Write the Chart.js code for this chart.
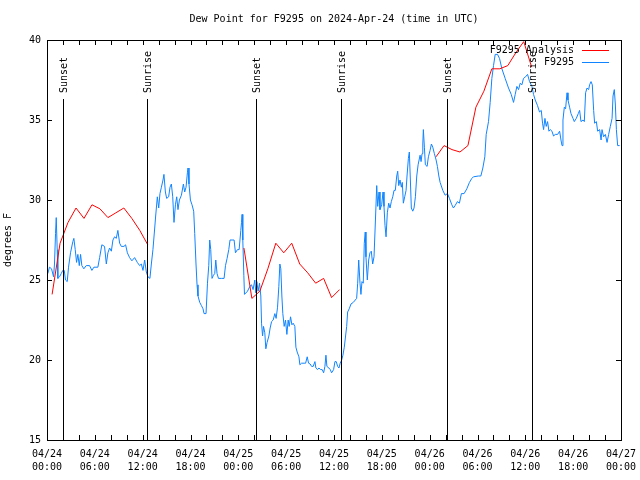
<!DOCTYPE html>
<html>
<head>
<meta charset="utf-8">
<script src="https://cdn.jsdelivr.net/npm/chart.js@4.4.1/dist/chart.umd.min.js"></script>
<style>
html, body { margin: 0; padding: 0; background: #fff; }
</style>
</head>
<body>
<canvas id="chart" width="640" height="480"></canvas>
<script>
// time = hours since 04/24 00:00 UTC, dew point in degrees F

// F9295 station readings [hour, dewpoint]
const stationReadings = [
  [0.10,25.4],[0.31,25.8],[0.57,25.7],[0.82,25.2],[0.94,26.0],[1.07,27.9],[1.16,28.9],[1.28,26.9],[1.36,25.1],[1.57,25.2],
  [1.78,25.4],[1.98,25.6],[2.16,25.6],[2.32,25.0],[2.54,24.9],[2.70,25.8],[2.95,26.7],[3.24,27.4],[3.37,27.6],[3.54,26.9],
  [3.71,26.1],[3.87,26.6],[4.05,25.9],[4.21,26.6],[4.37,25.9],[4.62,25.7],[4.92,25.9],[5.34,25.9],[5.63,25.6],[5.88,25.8],
  [6.38,25.8],[6.60,26.4],[6.88,27.2],[7.22,27.1],[7.44,26.0],[7.64,26.7],[7.85,27.0],[8.07,26.8],[8.27,27.5],[8.48,27.7],
  [8.69,27.6],[8.89,28.1],[9.11,27.3],[9.32,27.1],[9.65,27.1],[9.86,27.2],[10.08,26.7],[10.36,26.4],[10.65,26.2],[10.99,26.4],
  [11.33,26.1],[11.62,25.9],[11.83,26.0],[12.04,25.6],[12.25,26.25],[12.46,25.5],[12.66,25.2],[12.91,25.1],[13.09,26.0],[13.29,26.9],
  [13.51,28.25],[13.63,29.0],[13.84,30.2],[14.01,29.5],[14.17,30.4],[14.35,30.8],[14.55,31.25],[14.67,31.6],[14.85,30.5],[15.01,30.1],
  [15.26,30.2],[15.43,30.8],[15.60,31.0],[15.77,30.2],[15.93,28.6],[16.11,29.7],[16.27,30.2],[16.43,29.4],[16.61,30.0],[16.86,30.3],
  [17.11,31.0],[17.27,30.5],[17.44,30.8],[17.61,31.7],[17.69,32.0],[17.81,31.0],[17.99,30.0],[18.19,29.7],[18.40,29.3],[18.53,27.9],
  [18.69,26.0],[18.82,24.7],[18.94,24.0],[19.16,23.6],[19.37,23.4],[19.57,23.2],[19.70,22.9],[19.95,22.9],[20.13,24.8],[20.29,25.9],
  [20.41,27.5],[20.54,26.9],[20.70,25.1],[20.88,25.3],[21.04,25.4],[21.17,26.25],[21.33,25.4],[21.51,25.1],[21.88,25.1],[22.21,25.1],
  [22.39,25.9],[22.59,26.35],[22.80,26.9],[22.96,27.5],[23.22,27.5],[23.47,27.5],[23.64,26.7],[23.89,26.9],[24.10,26.9],[24.31,28.1],
  [24.40,28.6],[24.47,29.1],[24.56,27.5],[24.69,25.3],[24.77,24.1],[25.15,24.3],[25.44,24.6],[25.65,24.7],[25.85,24.4],[26.07,25.0],
  [26.19,24.2],[26.32,24.9],[26.48,24.3],[26.66,24.8],[26.82,24.0],[26.91,22.3],[27.04,21.5],[27.16,22.1],[27.32,21.7],[27.45,20.7],
  [27.61,21.1],[27.83,21.5],[27.99,22.0],[28.17,22.4],[28.37,22.5],[28.58,22.9],[28.74,22.6],[28.92,23.3],[29.08,24.6],[29.21,26.0],
  [29.33,25.7],[29.46,24.0],[29.58,22.9],[29.75,22.1],[29.92,22.5],[30.09,21.6],[30.25,22.5],[30.38,22.1],[30.55,22.7],[30.72,22.2],
  [30.88,22.3],[31.09,22.1],[31.22,20.8],[31.38,20.5],[31.60,20.2],[31.72,19.7],[31.93,19.8],[32.26,19.8],[32.44,19.8],[32.64,20.2],
  [32.81,19.8],[33.01,19.75],[33.19,19.6],[33.39,19.6],[33.61,19.9],[33.73,19.5],[33.94,19.4],[34.11,19.5],[34.32,19.4],[34.52,19.4],
  [34.70,19.2],[34.86,19.6],[34.99,20.3],[35.11,19.6],[35.36,19.5],[35.53,19.4],[35.70,19.2],[35.95,19.4],[36.12,19.9],[36.28,19.9],
  [36.46,19.6],[36.62,19.5],[36.78,19.8],[36.96,20.0],[37.12,20.3],[37.29,20.8],[37.59,22.1],[37.71,23.0],[37.91,23.2],[38.13,23.5],
  [38.42,23.6],[38.67,23.75],[38.84,23.85],[38.97,24.8],[39.10,26.25],[39.26,24.8],[39.38,24.1],[39.51,24.9],[39.67,24.8],[39.80,27.3],
  [39.92,28.0],[40.01,26.45],[40.18,25.0],[40.35,26.25],[40.51,26.7],[40.68,26.8],[40.85,26.0],[41.02,26.45],[41.18,28.5],[41.36,30.9],
  [41.48,29.6],[41.65,30.5],[41.77,29.4],[41.98,29.7],[42.15,30.5],[42.27,29.6],[42.40,28.4],[42.53,27.7],[42.69,29.2],[42.86,29.8],
  [43.03,29.5],[43.19,29.9],[43.37,30.2],[43.53,30.6],[43.69,30.6],[43.87,31.5],[43.99,31.8],[44.12,30.9],[44.28,31.25],[44.45,30.8],
  [44.57,31.1],[44.70,29.8],[44.87,30.2],[45.04,30.6],[45.16,31.5],[45.33,32.6],[45.45,33.0],[45.58,31.25],[45.70,29.5],[45.88,29.3],
  [46.04,29.5],[46.21,30.2],[46.38,31.5],[46.55,32.2],[46.67,32.5],[46.80,32.8],[46.92,32.4],[47.05,32.9],[47.14,33.5],[47.21,34.4],
  [47.34,33.3],[47.46,32.2],[47.68,32.1],[47.84,32.7],[48.05,33.1],[48.22,33.5],[48.39,33.3],[48.59,32.9],[48.81,32.5],[48.97,32.1],
  [49.15,31.5],[49.31,31.1],[49.65,30.6],[49.94,30.3],[50.23,30.4],[50.48,30.1],[50.78,29.7],[50.98,29.5],[51.19,29.65],[51.48,29.9],
  [51.73,29.8],[51.98,30.4],[52.32,30.4],[52.66,30.7],[52.99,31.1],[53.29,31.35],[53.49,31.45],[54.12,31.5],[54.42,31.5],[54.67,32.0],
  [54.92,32.7],[55.09,34.1],[55.38,34.9],[55.59,36.1],[55.80,37.6],[56.01,38.4],[56.22,39.1],[56.51,39.1],[56.76,38.85],[57.06,38.2],
  [57.47,37.6],[57.89,37.0],[58.23,36.6],[58.52,36.1],[58.73,36.6],[58.94,37.1],[59.15,36.9],[59.36,37.3],[59.57,37.2],[59.77,37.6],
  [60.03,37.7],[60.28,37.85],[60.53,37.4],[60.83,37.1],[61.03,36.6],[61.24,36.25],[61.53,35.9],[61.78,35.5],[62.00,35.6],[62.16,34.8],
  [62.29,34.4],[62.46,35.1],[62.62,34.6],[62.79,34.9],[62.96,34.3],[63.13,34.4],[63.34,34.3],[63.54,34.0],[63.76,34.1],[64.05,34.1],
  [64.30,34.3],[64.47,33.75],[64.60,33.4],[64.72,35.0],[64.89,35.8],[65.05,35.7],[65.23,36.7],[65.35,36.25],[65.55,35.8],[65.73,35.4],
  [65.98,35.1],[66.14,34.9],[66.39,35.1],[66.64,35.4],[66.81,35.6],[66.98,34.9],[67.24,35.0],[67.40,34.9],[67.56,36.7],[67.74,37.0],
  [67.94,36.9],[68.06,37.2],[68.24,37.4],[68.40,37.2],[68.57,35.6],[68.69,34.8],[68.91,34.9],[69.07,34.3],[69.32,34.4],[69.50,33.75],
  [69.62,34.4],[69.82,33.95],[70.04,34.1],[70.25,33.6],[70.45,34.1],[70.66,34.6],[70.88,35.1],[71.00,36.5],[71.16,36.9],[71.29,36.0],
  [71.42,34.4],[71.58,33.4],[71.83,33.4]
];

// F9295 Analysis, hourly [hour, dewpoint]; null marks a gap in the record
const analysisReadings = [
  [0.64,24.1],[1.64,27.3],[2.64,28.6],[3.64,29.5],[4.64,28.85],[5.64,29.7],[6.64,29.45],[7.64,28.9],[8.64,29.2],[9.64,29.5],
  [10.64,28.85],[11.64,28.1],[12.64,27.2],
  [18.0,null],
  [24.7,27.0],[25.7,23.85],[26.7,24.3],[27.7,25.7],[28.7,27.3],[29.7,26.7],[30.7,27.3],[31.7,26.0],[32.7,25.45],[33.7,24.8],
  [34.7,25.1],[35.7,23.9],[36.7,24.4],
  [42.0,null],
  [48.8,32.7],[49.8,33.4],[50.8,33.15],[51.8,33.0],[52.8,33.4],[53.8,35.8],[54.8,36.8],[55.8,38.2],[56.8,38.2],[57.8,38.4],
  [58.8,39.2],[59.8,39.9],[60.8,38.3]
];

// sunset / sunrise markers
const eventHours = [1.98, 12.59, 26.16, 36.83, 50.23, 60.78];
const eventNames = ['Sunset', 'Sunrise', 'Sunset', 'Sunrise', 'Sunset', 'Sunrise'];

// x tick labels every 6 hours
const dayLabels  = ['04/24','04/24','04/24','04/24','04/25','04/25','04/25','04/25','04/26','04/26','04/26','04/26','04/27'];
const timeLabels = ['00:00','06:00','12:00','18:00','00:00','06:00','12:00','18:00','00:00','06:00','12:00','18:00','00:00'];

const FONT = 'DejaVu Sans Mono';
const BLUE = 'rgb(16,132,255)';
const RED = 'rgb(255,0,0)';

const toPoints = rows => rows.map(r => ({ x: r[0], y: r[1] }));

// frame, inward ticks, sun markers, legend and title (gnuplot look)
const gnuplotDecor = {
    id: 'gnuplotDecor',
    afterDatasetsDraw(chart) {
        const ctx = chart.ctx;
        const a = chart.chartArea;
        const xs = chart.scales.x;
        const ys = chart.scales.y;
        ctx.save();
        ctx.strokeStyle = '#000';
        ctx.lineWidth = 1;

        // border
        ctx.strokeRect(Math.round(a.left) + 0.5, Math.round(a.top) + 0.5,
            Math.round(a.right - a.left), Math.round(a.bottom - a.top));

        // ticks
        ctx.beginPath();
        xs.ticks.forEach(t => {
            const px = Math.round(xs.getPixelForValue(t.value)) + 0.5;
            ctx.moveTo(px, a.bottom); ctx.lineTo(px, a.bottom - 5);
            ctx.moveTo(px, a.top); ctx.lineTo(px, a.top + 5);
        });
        ys.ticks.forEach(t => {
            const py = Math.round(ys.getPixelForValue(t.value)) + 0.5;
            ctx.moveTo(a.left, py); ctx.lineTo(a.left + 5, py);
            ctx.moveTo(a.right, py); ctx.lineTo(a.right - 5, py);
        });
        ctx.stroke();

        // sunrise / sunset lines
        ctx.font = '10px "' + FONT + '"';
        ctx.fillStyle = '#000';
        eventHours.forEach((h, i) => {
            const px = Math.round(xs.getPixelForValue(h)) + 0.5;
            ctx.beginPath();
            ctx.moveTo(px, a.top + 59);
            ctx.lineTo(px, a.bottom);
            ctx.stroke();
            ctx.save();
            ctx.translate(px + 1, a.top + 53);
            ctx.rotate(-Math.PI / 2);
            ctx.textAlign = 'left';
            ctx.textBaseline = 'middle';
            ctx.fillText(eventNames[i], 0, 0);
            ctx.restore();
        });

        // legend
        ctx.textAlign = 'right';
        ctx.textBaseline = 'middle';
        chart.data.datasets.forEach((ds, i) => {
            const y = a.top + 10 + i * 12;
            ctx.fillStyle = '#000';
            ctx.fillText(ds.label, a.right - 47, y);
            ctx.strokeStyle = ds.borderColor;
            ctx.beginPath();
            ctx.moveTo(a.right - 39, y + 0.5);
            ctx.lineTo(a.right - 12, y + 0.5);
            ctx.stroke();
        });

        // title
        ctx.fillStyle = '#000';
        ctx.textAlign = 'center';
        ctx.fillText('Dew Point for F9295 on 2024-Apr-24 (time in UTC)', (a.left + a.right) / 2, 19);
        ctx.restore();
    }
};

new Chart(document.getElementById('chart'), {
    type: 'line',
    data: {
        datasets: [{
            label: 'F9295 Analysis',
            data: toPoints(analysisReadings),
            borderColor: RED,
            borderWidth: 1,
            pointRadius: 0,
            spanGaps: false
        }, {
            label: 'F9295',
            data: toPoints(stationReadings),
            borderColor: BLUE,
            borderWidth: 1,
            pointRadius: 0
        }]
    },
    options: {
        responsive: false,
        animation: false,
        devicePixelRatio: 1,
        layout: { padding: { top: 40, right: 19, left: 0, bottom: 0 } },
        plugins: {
            legend: { display: false },
            tooltip: { enabled: false }
        },
        scales: {
            x: {
                type: 'linear',
                min: 0,
                max: 72,
                afterFit: s => { s.height = 40; s.paddingRight = 0; },
                grid: { display: false, drawTicks: false },
                border: { display: false },
                ticks: {
                    stepSize: 2,
                    autoSkip: false,
                    maxRotation: 0,
                    padding: 8,
                    color: '#000',
                    font: { family: FONT, size: 10, lineHeight: 1.3 },
                    callback: v => (v % 6 === 0) ? [dayLabels[v / 6], timeLabels[v / 6]] : ''
                }
            },
            y: {
                min: 15,
                max: 40,
                afterFit: s => { s.width = 47; },
                grid: { display: false, drawTicks: false },
                border: { display: false },
                title: {
                    display: true,
                    text: 'degrees F',
                    color: '#000',
                    font: { family: FONT, size: 10 },
                    padding: { top: 2, bottom: 0 }
                },
                ticks: {
                    stepSize: 5,
                    padding: 6,
                    color: '#000',
                    font: { family: FONT, size: 10 }
                }
            }
        }
    },
    plugins: [gnuplotDecor]
});
</script>
</body>
</html>
